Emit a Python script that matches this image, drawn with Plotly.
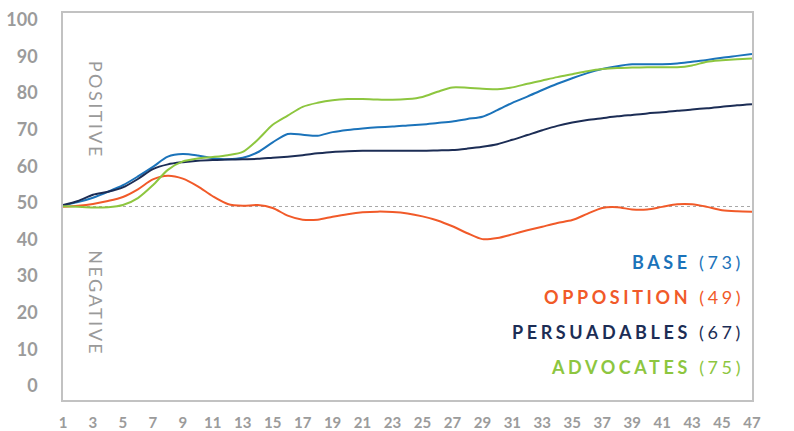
import plotly.graph_objects as go

weeks = list(range(1, 48))

base = [49.3, 50.2, 51.4, 53.0, 54.8, 57.2, 59.8, 62.6, 63.3, 62.9,
        62.2, 61.9, 62.3, 63.8, 66.5, 68.8, 68.6, 68.3, 69.3, 69.9,
        70.3, 70.6, 70.8, 71.1, 71.4, 71.8, 72.2, 72.9, 73.5, 75.3,
        77.3, 79.0, 80.8, 82.5, 84.0, 85.4, 86.5, 87.3, 87.8, 87.8,
        87.8, 88.0, 88.5, 89.0, 89.6, 90.1, 90.6]

opposition = [48.9, 49.2, 49.7, 50.5, 51.6, 53.7, 56.4, 57.4, 56.6, 54.5,
              51.8, 49.7, 49.2, 49.4, 48.6, 46.5, 45.4, 45.4, 46.2, 46.9,
              47.4, 47.6, 47.5, 47.1, 46.3, 45.2, 43.6, 41.7, 40.1, 40.4,
              41.4, 42.5, 43.5, 44.5, 45.3, 47.0, 48.6, 48.8, 48.2, 48.2,
              48.9, 49.6, 49.6, 48.9, 48.0, 47.7, 47.6]

persuadables = [49.4, 50.5, 52.2, 53.0, 54.2, 56.5, 59.2, 60.5, 61.1, 61.5,
                61.7, 61.8, 61.9, 62.0, 62.3, 62.6, 63.0, 63.5, 63.9, 64.1,
                64.2, 64.2, 64.2, 64.2, 64.2, 64.3, 64.4, 64.8, 65.3, 66.0,
                67.2, 68.5, 69.8, 71.0, 71.9, 72.6, 73.1, 73.6, 74.0, 74.4,
                74.7, 75.1, 75.5, 75.8, 76.2, 76.6, 76.9]

advocates = [49.1, 48.9, 48.7, 48.8, 49.4, 51.3, 54.8, 59.0, 61.3, 62.1,
             62.5, 63.0, 63.9, 67.2, 71.3, 73.8, 76.2, 77.3, 78.0, 78.3,
             78.3, 78.2, 78.1, 78.3, 78.9, 80.3, 81.5, 81.4, 81.1, 81.0,
             81.5, 82.5, 83.4, 84.3, 85.1, 85.9, 86.5, 86.8, 86.9, 87.0,
             87.0, 87.0, 87.5, 88.5, 88.9, 89.2, 89.4]

series_names = ["BASE", "OPPOSITION", "PERSUADABLES", "ADVOCATES"]
series_scores = [73, 49, 67, 75]
series_values = [base, opposition, persuadables, advocates]
colors = ["#1b73ba", "#f15a29", "#1c2d55", "#8dc63f"]

x_tick_vals = list(range(1, 48, 2))
y_tick_vals = list(range(0, 101, 10))
neutral_line = 49

fig = go.Figure()
for name, vals, col in zip(series_names, series_values, colors):
    fig.add_trace(go.Scatter(
        x=weeks, y=vals, mode="lines", name=name,
        line=dict(color=col, width=2, shape="spline", smoothing=0.8),
        showlegend=False, hoverinfo="skip"))

fig.add_shape(type="line", xref="paper", x0=0, x1=1, yref="y",
              y0=neutral_line, y1=neutral_line,
              line=dict(color="#a8a8a8", width=1, dash="dot"), layer="below")

# Legend-like labels
label_y = [0.357, 0.266, 0.176, 0.085]
for name, score, col, ly in zip(series_names, series_scores, colors, label_y):
    fig.add_annotation(
        xref="paper", yref="paper", x=0.991, y=ly,
        xanchor="right", yanchor="middle", showarrow=False,
        text=f"<span style='letter-spacing:3.6px'><b>{name}</b> ({score})</span>",
        font=dict(family="Lato", size=18, color=col))

for txt, ly in [("POSITIVE", 0.75), ("NEGATIVE", 0.25)]:
    fig.add_annotation(
        xref="paper", yref="paper", x=0.048, y=ly,
        xanchor="center", yanchor="middle", showarrow=False, textangle=90,
        text=f"<span style='letter-spacing:2.5px'>{txt}</span>",
        font=dict(family="Lato", size=18, color="#9a9a9a"))

fig.update_xaxes(
    range=[1, 47], tickvals=x_tick_vals, ticktext=[str(v) for v in x_tick_vals],
    showgrid=False, zeroline=False, showline=True, mirror=True,
    linecolor="#c2c2c2", linewidth=1.5, ticks="", automargin=False,
    ticklabeloverflow="allow",
    tickfont=dict(family="Lato", size=15, color="#9b9b9b", weight="bold"),
    ticklabelstandoff=8)
fig.update_yaxes(
    range=[-3.8, 101.8], tickvals=y_tick_vals,
    showgrid=False, zeroline=False, showline=True, mirror=True,
    linecolor="#c2c2c2", linewidth=1.5, ticks="", automargin=False,
    ticklabeloverflow="allow",
    tickfont=dict(family="Lato", size=18, color="#9b9b9b", weight="bold"),
    ticklabelstandoff=20)

fig.update_layout(
    width=794, height=431,
    margin=dict(l=63, r=42, t=13, b=31),
    paper_bgcolor="white", plot_bgcolor="white",
    font=dict(family="Lato"))

fig.write_html("out.html", config={"displayModeBar": False},
               post_script="document.body.style.margin='0';")
